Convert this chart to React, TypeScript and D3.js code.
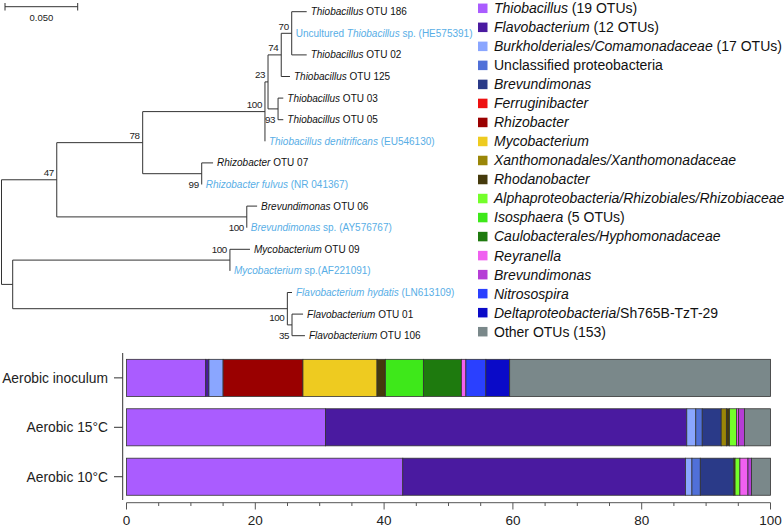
import React from 'react';
import * as d3 from 'd3';

const W = 784;
const H = 529;
const FONT = '"Liberation Sans", Arial, Helvetica, sans-serif';

// ---------- bar chart data ----------
const categories = ['Aerobic inoculum', 'Aerobic 15°C', 'Aerobic 10°C'];

const seriesColors = [
  '#aa5cff', '#4a1aa0', '#8aa6ff', '#5070d8', '#2a3a88', '#ee1010', '#9a0000', '#eecb20',
  '#9a8608', '#453a0c', '#74ff2a', '#3ee81a', '#1e7a0e', '#f060f0', '#b63ed6', '#2a40ff',
  '#0a0ac8', '#7a888a',
];

const legendLabels: [string, boolean][][] = [
  [['Thiobacillus', true], [' (19 OTUs)', false]],
  [['Flavobacterium', true], [' (12 OTUs)', false]],
  [['Burkholderiales/Comamonadaceae', true], [' (17 OTUs)', false]],
  [['Unclassified proteobacteria', false]],
  [['Brevundimonas', true]],
  [['Ferruginibacter', true]],
  [['Rhizobacter', true]],
  [['Mycobacterium', true]],
  [['Xanthomonadales/Xanthomonadaceae', true]],
  [['Rhodanobacter', true]],
  [['Alphaproteobacteria/Rhizobiales/Rhizobiaceae', true]],
  [['Isosphaera', true], [' (5 OTUs)', false]],
  [['Caulobacterales/Hyphomonadaceae', true]],
  [['Reyranella', true]],
  [['Brevundimonas', true]],
  [['Nitrosospira', true]],
  [['Deltaproteobacteria', true], ['/Sh765B-TzT-29', false]],
  [['Other OTUs (153)', false]],
];

const inoculum = [12.3, 0.5, 2.2, 0, 0, 0, 12.4, 11.5, 0, 1.3, 0, 5.9, 5.9, 0.7, 0, 3.1, 3.7, 40.5];
const aerobic15 = [30.9, 56.1, 1.4, 1.0, 2.95, 0, 0, 0, 0.8, 0.5, 1.1, 0, 0, 0.3, 0.9, 0, 0, 4.05];
const aerobic10 = [42.9, 43.9, 1.0, 1.3, 5.2, 0, 0, 0, 0, 0.2, 0.75, 0, 0, 1.25, 0.55, 0, 0, 2.95];

const xMajorTicks = [0, 20, 40, 60, 80, 100];
const xMinorTicks = [5, 10, 15, 25, 30, 35, 45, 50, 55, 65, 70, 75, 85, 90, 95];

// ---------- tree data ----------
const leafLabels: [string, boolean][][] = [
  [['Thiobacillus', true], [' OTU 186', false]],
  [['Uncultured ', false], ['Thiobacillus', true], [' sp. (HE575391)', false]],
  [['Thiobacillus', true], [' OTU 02', false]],
  [['Thiobacillus', true], [' OTU 125', false]],
  [['Thiobacillus', true], [' OTU 03', false]],
  [['Thiobacillus', true], [' OTU 05', false]],
  [['Thiobacillus denitrificans', true], [' (EU546130)', false]],
  [['Rhizobacter', true], [' OTU 07', false]],
  [['Rhizobacter fulvus', true], [' (NR 041367)', false]],
  [['Brevundimonas', true], [' OTU 06', false]],
  [['Brevundimonas', true], [' sp. (AY576767)', false]],
  [['Mycobacterium', true], [' OTU 09', false]],
  [['Mycobacterium', true], [' sp.(AF221091)', false]],
  [['Flavobacterium hydatis', true], [' (LN613109)', false]],
  [['Flavobacterium', true], [' OTU 01', false]],
  [['Flavobacterium', true], [' OTU 106', false]],
];
const leafIsReference = [false, true, false, false, false, false, true, false, true, false, true, false, true, true, false, false];

type TNode = { leaf?: number; bl: number; boot?: string; pos?: 'above' | 'low' | 'up' | 'mid'; children?: TNode[] };

const tree: TNode = {
  bl: 0,
  children: [
    {
      bl: 0.038, boot: '47', pos: 'above',
      children: [
        {
          bl: 0.0591, boot: '78', pos: 'above',
          children: [
            {
              bl: 0.0841, boot: '100', pos: 'above',
              children: [
                {
                  bl: 0.0021, boot: '23', pos: 'above',
                  children: [
                    {
                      bl: 0.0091, boot: '74', pos: 'above',
                      children: [
                        {
                          bl: 0.0072, boot: '70', pos: 'above',
                          children: [
                            { leaf: 0, bl: 0.0103 },
                            { leaf: 1, bl: 0.0 },
                            { leaf: 2, bl: 0.0103 },
                          ],
                        },
                        { leaf: 3, bl: 0.006 },
                      ],
                    },
                    {
                      bl: 0.0069, boot: '93', pos: 'low',
                      children: [
                        { leaf: 4, bl: 0.0036 },
                        { leaf: 5, bl: 0.0036 },
                      ],
                    },
                  ],
                },
                { leaf: 6, bl: 0.0 },
              ],
            },
            {
              bl: 0.0406, boot: '99', pos: 'low',
              children: [
                { leaf: 7, bl: 0.0078 },
                { leaf: 8, bl: 0.0 },
              ],
            },
          ],
        },
        {
          bl: 0.1307, boot: '100', pos: 'low',
          children: [
            { leaf: 9, bl: 0.0071 },
            { leaf: 10, bl: 0.0 },
          ],
        },
      ],
    },
    {
      bl: 0.0077,
      children: [
        {
          bl: 0.1494, boot: '100', pos: 'up',
          children: [
            { leaf: 11, bl: 0.0138 },
            { leaf: 12, bl: 0.0 },
          ],
        },
        {
          bl: 0.1889, boot: '100', pos: 'mid',
          children: [
            { leaf: 13, bl: 0.0032 },
            {
              bl: 0.0032, boot: '35', pos: 'low',
              children: [
                { leaf: 14, bl: 0.0076 },
                { leaf: 15, bl: 0.0089 },
              ],
            },
          ],
        },
      ],
    },
  ],
};

const scaleBarValue = 0.05;

// ---------- layout ----------
const treeX = d3.scaleLinear().domain([0, 0.05]).range([1.5, 74.2]);
const leafY = d3.scaleLinear().domain([0, 15]).range([11.7, 335.7]);

type Placed = { x: number; y: number; px: number; node: TNode; kids: Placed[] };

function place(node: TNode, parentDist: number): Placed {
  const dist = parentDist + node.bl;
  const x = treeX(dist);
  const px = treeX(parentDist);
  if (node.children && node.children.length) {
    const kids = node.children.map((c) => place(c, dist));
    const y = (kids[0].y + kids[kids.length - 1].y) / 2;
    return { x, y, px, node, kids };
  }
  return { x, y: leafY(node.leaf as number), px, node, kids: [] };
}

function flatten(p: Placed, out: Placed[] = []): Placed[] {
  out.push(p);
  p.kids.forEach((k) => flatten(k, out));
  return out;
}

const xScale = d3.scaleLinear().domain([0, 100]).range([126.5, 770.5]);
const yScale = d3
  .scaleBand<string>()
  .domain(categories)
  .range([353.15, 501.45])
  .paddingInner(0.25)
  .paddingOuter(0.125);

const legendY = d3.scaleLinear().domain([0, 17]).range([8.3, 331.7]);

export default function App() {
  const root = place(tree, 0);
  const nodes = flatten(root);
  const isRoot = (p: Placed) => p === root;

  const rows = categories.map((c, i) => ({ cat: c, values: [inoculum, aerobic15, aerobic10][i] }));
  const keys = seriesColors.map((_, i) => i);
  const stack = d3
    .stack<{ cat: string; values: number[] }, number>()
    .keys(keys)
    .value((d, k) => d.values[k]);
  const stacked = stack(rows);

  const lineColor = '#333';
  const bootColor = '#222';
  const refBlue = '#58aee6';

  const sbX0 = 5;
  const sbX1 = sbX0 + (treeX(scaleBarValue) - treeX(0));

  return (
    <svg
      width={W}
      height={H}
      style={{ position: 'absolute', left: 0, top: 0, background: '#fff' }}
      fontFamily={FONT}
    >
      {/* scale bar */}
      <g stroke={lineColor} strokeWidth={1}>
        <line x1={sbX0} x2={sbX1} y1={6.7} y2={6.7} />
        <line x1={sbX0} x2={sbX0} y1={3} y2={10.5} />
        <line x1={sbX1} x2={sbX1} y1={3} y2={10.5} />
      </g>
      <text x={(sbX0 + sbX1) / 2} y={20.5} fontSize={9.5} textAnchor="middle" fill="#222">
        {scaleBarValue.toFixed(3)}
      </text>

      {/* tree branches */}
      <g stroke={lineColor} strokeWidth={1} fill="none">
        {nodes.map((p, i) => (
          <g key={i}>
            {!isRoot(p) && p.x - p.px > 0.01 && <line x1={p.px} x2={p.x} y1={p.y} y2={p.y} />}
            {p.kids.length > 0 && (
              <line x1={p.x} x2={p.x} y1={p.kids[0].y} y2={p.kids[p.kids.length - 1].y} />
            )}
          </g>
        ))}
      </g>

      {/* bootstrap values */}
      <g fontSize={9.8} fill={bootColor} textAnchor="end" letterSpacing={-0.4}>
        {nodes
          .filter((p) => p.node.boot)
          .map((p, i) => {
            const low = p.kids[p.kids.length - 1].y;
            const up = p.kids[0].y;
            let y = p.y - 3.5;
            if (p.node.pos === 'low') y = low + 3.5;
            if (p.node.pos === 'up') y = up + 3.5;
            if (p.node.pos === 'mid') y = (p.y + low) / 2 + 4;
            return (
              <text key={i} x={p.x - 3} y={y}>
                {p.node.boot}
              </text>
            );
          })}
      </g>

      {/* leaf labels */}
      <g fontSize={10}>
        {nodes
          .filter((p) => p.kids.length === 0)
          .map((p, i) => {
            const idx = p.node.leaf as number;
            return (
              <text
                key={i}
                x={p.x + 4}
                y={p.y}
                dy="0.35em"
                fill={leafIsReference[idx] ? refBlue : '#111'}
              >
                {leafLabels[idx].map(([t, it], j) => (
                  <tspan key={j} fontStyle={it ? 'italic' : 'normal'}>
                    {t}
                  </tspan>
                ))}
              </text>
            );
          })}
      </g>

      {/* legend */}
      <g fontSize={14}>
        {legendLabels.map((parts, i) => (
          <g key={i}>
            <rect x={478} y={legendY(i) - 4.75} width={9.5} height={9.5} fill={seriesColors[i]} />
            <text x={494} y={legendY(i)} dy="0.35em" fill="#111">
              {parts.map(([t, it], j) => (
                <tspan key={j} fontStyle={it ? 'italic' : 'normal'}>
                  {t}
                </tspan>
              ))}
            </text>
          </g>
        ))}
      </g>

      {/* stacked bars */}
      <g stroke="#333" strokeWidth={0.8}>
        {stacked.map((s, si) =>
          s.map((d, ci) => {
            const w = xScale(d[1]) - xScale(d[0]);
            if (w <= 0.001) return null;
            return (
              <rect
                key={`${si}-${ci}`}
                x={xScale(d[0])}
                y={yScale(d.data.cat) as number}
                width={w}
                height={yScale.bandwidth()}
                fill={seriesColors[si]}
              />
            );
          })
        )}
      </g>

      {/* y axis */}
      <g stroke="#333" strokeWidth={1}>
        <line x1={122.7} x2={122.7} y1={353} y2={500} />
        {categories.map((c) => {
          const y = (yScale(c) as number) + yScale.bandwidth() / 2;
          return <line key={c} x1={114} x2={122.7} y1={y} y2={y} />;
        })}
      </g>
      <g fontSize={13.8} fill="#222" textAnchor="end">
        {categories.map((c) => (
          <text key={c} x={108} y={(yScale(c) as number) + yScale.bandwidth() / 2} dy="0.35em">
            {c}
          </text>
        ))}
      </g>

      {/* x axis */}
      <g stroke="#555" strokeWidth={1}>
        <line x1={xScale(0)} x2={xScale(100)} y1={502.7} y2={502.7} />
        {xMajorTicks.map((t) => (
          <line key={t} x1={xScale(t)} x2={xScale(t)} y1={502.7} y2={509.5} />
        ))}
        {xMinorTicks.map((t) => (
          <line key={t} x1={xScale(t)} x2={xScale(t)} y1={502.7} y2={506} />
        ))}
      </g>
      <g fontSize={13.5} fill="#222" textAnchor="middle">
        {xMajorTicks.map((t) => (
          <text key={t} x={xScale(t)} y={525}>
            {t}
          </text>
        ))}
      </g>
    </svg>
  );
}
